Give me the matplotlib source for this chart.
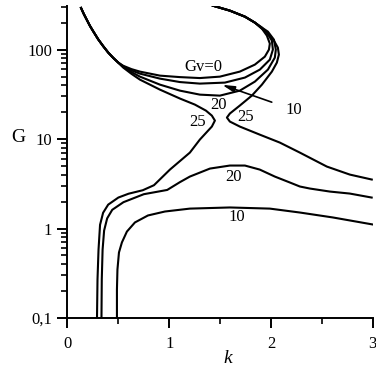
import matplotlib.pyplot as plt
import matplotlib
from matplotlib.ticker import FixedLocator, FuncFormatter, LogLocator, NullFormatter

matplotlib.rcParams['font.family'] = 'Liberation Serif'
matplotlib.rcParams['font.size'] = 12

# shared upper-left start of the four upper curves
k_start = [0.133, 0.161, 0.189, 0.221, 0.253, 0.302, 0.352, 0.401, 0.450, 0.499]
g_start = [292.4, 249.5, 216.4, 184.0, 160.2, 130.3, 108.9, 92.5, 80.8, 71.6]

# upper loop curves (Gv = 0, 10, 20) and left branch of Gv = 25
k_gv0 = k_start + [0.548, 0.630, 0.712, 0.909, 1.105, 1.301, 1.498, 1.694, 1.842, 1.940, 1.980,
                   1.989, 1.960, 1.911, 1.842, 1.744, 1.596, 1.429]
g_gv0 = g_start + [66.0, 60.5, 56.8, 51.2, 49.3, 48.1, 49.9, 56.8, 68.0, 83.5, 100,
                   116.7, 143.3, 171.7, 200.4, 233.7, 272.8, 310]

k_gv10 = k_start + [0.548, 0.630, 0.712, 0.909, 1.105, 1.301, 1.547, 1.744, 1.891, 1.989, 2.019,
                    2.009, 1.960, 1.911, 1.842, 1.744, 1.596, 1.429]
g_gv10 = g_start + [65.0, 58.5, 53.9, 47.4, 43.4, 41.7, 42.8, 48.7, 59.8, 77.3, 100,
                    126.2, 154.9, 171.7, 200.4, 233.7, 272.8, 310]

k_gv20 = k_start + [0.548, 0.630, 0.712, 0.909, 1.105, 1.301, 1.498, 1.694, 1.842, 1.970, 2.038,
                    2.048, 2.029, 1.970, 1.911, 1.842, 1.744, 1.596, 1.429]
g_gv20 = g_start + [64.0, 56.0, 49.9, 40.6, 34.8, 31.4, 30.6, 34.8, 43.9, 59.8, 81.4,
                    100, 129.4, 158.9, 176.2, 200.4, 233.7, 272.8, 310]

k_gv25a = k_start + [0.548, 0.630, 0.712, 0.909, 1.105, 1.252, 1.361, 1.419, 1.449, 1.419, 1.301,
                     1.203, 1.007, 0.850, 0.740, 0.600, 0.500, 0.400, 0.350, 0.320, 0.305,
                     0.295, 0.290]
g_gv25a = g_start + [63.0, 53.5, 46.2, 35.7, 28.4, 24.3, 20.8, 18.3, 16.1, 13.8, 9.87,
                     7.06, 4.56, 3.05, 2.68, 2.45, 2.22, 1.85, 1.5, 1.1, 0.58,
                     0.27, 0.1]

# right branch of Gv = 25
k_gv25b = [1.429, 1.596, 1.744, 1.842, 1.911, 1.970, 2.029, 2.068, 2.078, 2.058, 2.009, 1.911,
           1.812, 1.694, 1.596, 1.567, 1.596, 1.694, 1.891, 2.087, 2.284, 2.549, 2.775, 2.991]
g_gv25b = [310, 272.8, 233.7, 200.4, 176.2, 151, 126.2, 105.2, 87.9, 71.6, 56.8, 40.6,
           30.6, 23.7, 19.3, 17.4, 15.7, 13.8, 11.2, 9.14, 7.06, 4.93, 4.01, 3.53]

# lower curves
k_low20 = [0.334, 0.337, 0.345, 0.360, 0.390, 0.440, 0.550, 0.750, 0.980, 1.105, 1.203, 1.400,
           1.596, 1.744, 1.890, 2.038, 2.186, 2.284, 2.382, 2.579, 2.775, 2.990]
g_low20 = [0.1, 0.27, 0.58, 0.95, 1.3, 1.62, 1.97, 2.42, 2.70, 3.3, 3.81, 4.68,
           5.06, 5.06, 4.56, 3.81, 3.27, 2.95, 2.80, 2.59, 2.46, 2.22]

k_low10 = [0.486, 0.486, 0.491, 0.506, 0.535, 0.584, 0.663, 0.791, 0.958, 1.203, 1.596, 1.989,
           2.284, 2.608, 3.0]
g_low10 = [0.1, 0.208, 0.348, 0.54, 0.70, 0.925, 1.17, 1.40, 1.55, 1.67, 1.72, 1.67,
           1.51, 1.33, 1.11]

fig = plt.figure(figsize=(3.76, 3.76), dpi=100)
ax = fig.add_axes([0.1795, 0.1543, 0.8117, 0.8306])

for kk, gg in [(k_gv0, g_gv0), (k_gv10, g_gv10), (k_gv20, g_gv20), (k_gv25a, g_gv25a),
               (k_gv25b, g_gv25b), (k_low20, g_low20), (k_low10, g_low10)]:
    ax.plot(kk, gg, color='black', lw=1.5, solid_joinstyle='round')

ax.set_yscale('log')
ax.set_xlim(0, 3)
ax.set_ylim(0.1, 310)

ax.spines['top'].set_visible(False)
ax.spines['right'].set_visible(False)
ax.spines['left'].set_linewidth(1.4)
ax.spines['bottom'].set_linewidth(1.4)

ax.xaxis.set_major_locator(FixedLocator([0, 1, 2, 3]))
ax.xaxis.set_minor_locator(FixedLocator([0.5, 1.5, 2.5]))
ax.yaxis.set_major_locator(FixedLocator([0.1, 1, 10, 100]))
ax.yaxis.set_minor_locator(LogLocator(base=10, subs=range(2, 10)))
ax.yaxis.set_major_formatter(FuncFormatter(lambda v, p: '0,1' if v < 0.5 else '%d' % v))
ax.yaxis.set_minor_formatter(NullFormatter())
ax.tick_params(which='major', length=7, width=1.4, direction='out', labelsize=12, pad=4)
ax.tick_params(which='minor', length=4, width=1.2, direction='out')
ax.tick_params(axis='x', which='major', pad=6)

ax.text(-0.16, 10.4, 'G', transform=ax.get_yaxis_transform(), fontsize=14,
        ha='center', va='center')
ax.text(1.577, -0.13, 'k', transform=ax.get_xaxis_transform(), fontsize=14,
        style='italic', ha='center', va='center')

# curve labels
ax.text(1.34, 64.6, 'Gv=0', fontsize=12, ha='center', va='center')
ax.text(1.48, 24.2, '20', fontsize=12, ha='center', va='center')
ax.text(1.28, 15.6, '25', fontsize=12, ha='center', va='center')
ax.text(1.75, 17.8, '25', fontsize=12, ha='center', va='center')
ax.text(1.63, 3.8, '20', fontsize=12, ha='center', va='center')
ax.text(1.66, 1.33, '10', fontsize=12, ha='center', va='center')
ax.annotate('10', xy=(1.52, 40.4), xytext=(2.22, 21.3), fontsize=12, ha='center', va='center',
            arrowprops=dict(arrowstyle='-|>,head_length=0.6,head_width=0.15', color='black',
                            lw=1.2, shrinkA=8, shrinkB=0))

fig.savefig('out.png', dpi=100)
